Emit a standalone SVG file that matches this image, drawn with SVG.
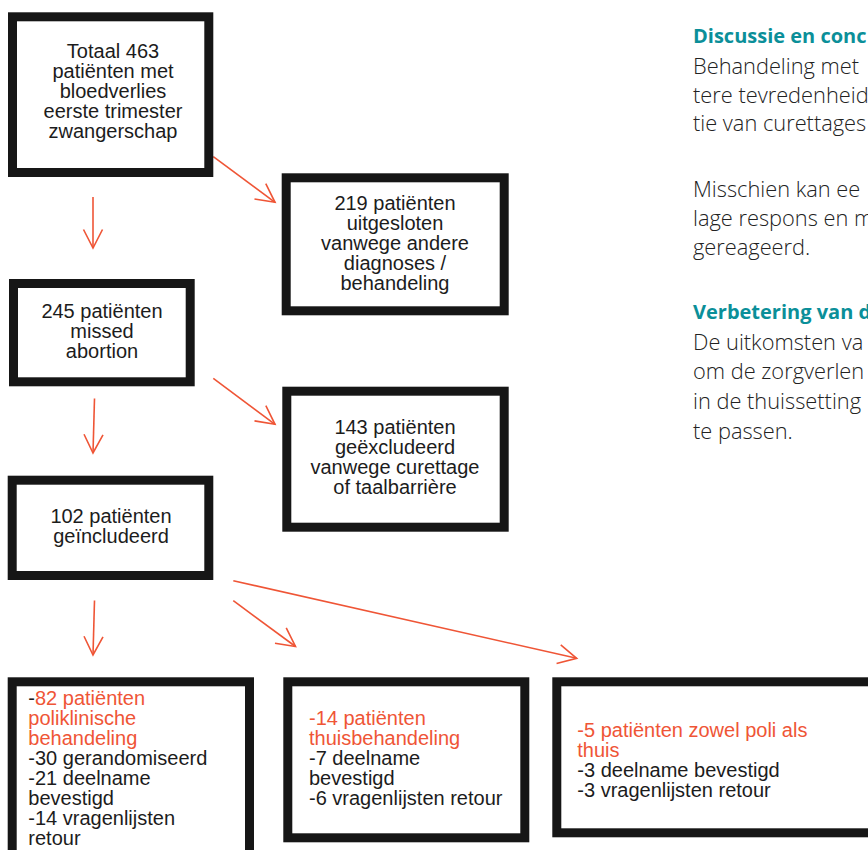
<svg xmlns="http://www.w3.org/2000/svg" width="868" height="850" viewBox="0 0 868 850">
<style>
.box{fill:#fff;stroke:#161616;stroke-width:9}
.t{font-family:"Liberation Sans",Arial,sans-serif;font-size:20px;fill:#1c1c1c}
.c{text-anchor:middle}
.r{fill:#ef5536}
.con{stroke:#ef5536;stroke-width:1.6;fill:none;marker-end:url(#ah)}
.h{font-family:"Open Sans",Lato,sans-serif;font-weight:700;font-size:20px;fill:#0b8f99}
.b{font-family:"Open Sans",Lato,sans-serif;font-weight:300;font-size:21.8px;fill:#222}
</style>
<defs>
<marker id="ah" markerUnits="userSpaceOnUse" viewBox="-21 -12 24 24" refX="0" refY="0" markerWidth="24" markerHeight="24" orient="auto" overflow="visible">
<path d="M-18.5,-9.5 L0,0 L-18.5,9.5" fill="none" stroke="#ef5536" stroke-width="1.6"/>
</marker>
</defs>
<rect width="868" height="850" fill="#fff"/>
<g id="connectors">
<path class="con" d="M93,197 L93,248"/>
<path class="con" d="M213.3,156.7 L275,202.3"/>
<path class="con" d="M94.5,398.5 L93,453"/>
<path class="con" d="M213.3,378.3 L275,424.3"/>
<path class="con" d="M94.5,600.5 L93,655"/>
<path class="con" d="M233.3,600.7 L295.5,646.5"/>
<path class="con" d="M233.3,580.7 L576.7,658.3"/>
</g>
<g id="n-totaal">
<rect class="box" x="12.5" y="16.8" width="196.3" height="155.7"/>
<text class="t c" x="113" y="58.3">Totaal 463</text>
<text class="t c" x="113" y="78.3">patiënten met</text>
<text class="t c" x="113" y="98.3">bloedverlies</text>
<text class="t c" x="113" y="118.3">eerste trimester</text>
<text class="t c" x="113" y="138.3">zwangerschap</text>
</g>
<g id="n-219">
<rect class="box" x="286.2" y="177.8" width="218" height="133"/>
<text class="t c" x="395" y="209.5">219 patiënten</text>
<text class="t c" x="395" y="229.5">uitgesloten</text>
<text class="t c" x="395" y="249.5">vanwege andere</text>
<text class="t c" x="395" y="269.5">diagnoses /</text>
<text class="t c" x="395" y="289.5">behandeling</text>
</g>
<g id="n-245">
<rect class="box" x="13.5" y="283.5" width="176.7" height="98.3"/>
<text class="t c" x="102" y="318.3">245 patiënten</text>
<text class="t c" x="102" y="338">missed</text>
<text class="t c" x="102" y="357.5">abortion</text>
</g>
<g id="n-143">
<rect class="box" x="286.8" y="391.2" width="217.4" height="136"/>
<text class="t c" x="395" y="434.3">143 patiënten</text>
<text class="t c" x="395" y="454">geëxcludeerd</text>
<text class="t c" x="395" y="474">vanwege curettage</text>
<text class="t c" x="395" y="493.5">of taalbarrière</text>
</g>
<g id="n-102">
<rect class="box" x="12.2" y="480.2" width="196.6" height="95.3"/>
<text class="t c" x="111" y="523.3">102 patiënten</text>
<text class="t c" x="111" y="542.7">geïncludeerd</text>
</g>
<g id="n-82">
<rect class="box" x="12.2" y="681.8" width="237.3" height="200"/>
<text class="t" x="28.3" y="705"><tspan>-</tspan><tspan class="r">82 patiënten</tspan></text>
<text class="t r" x="28.3" y="725">poliklinische</text>
<text class="t r" x="28.3" y="745">behandeling</text>
<text class="t" x="28.3" y="765">-30 gerandomiseerd</text>
<text class="t" x="28.3" y="785">-21 deelname</text>
<text class="t" x="28.3" y="805">bevestigd</text>
<text class="t" x="28.3" y="825">-14 vragenlijsten</text>
<text class="t" x="28.3" y="845">retour</text>
</g>
<g id="n-14">
<rect class="box" x="287.8" y="681.8" width="237" height="156"/>
<text class="t r" x="309" y="725">-14 patiënten</text>
<text class="t r" x="309" y="745">thuisbehandeling</text>
<text class="t" x="309" y="765">-7 deelname</text>
<text class="t" x="309" y="785">bevestigd</text>
<text class="t" x="309" y="805">-6 vragenlijsten retour</text>
</g>
<g id="n-5">
<rect class="box" x="556.8" y="681.8" width="340" height="151"/>
<text class="t r" x="577.3" y="737">-5 patiënten zowel poli als</text>
<text class="t r" x="577.3" y="757">thuis</text>
<text class="t" x="577.3" y="777">-3 deelname bevestigd</text>
<text class="t" x="577.3" y="797">-3 vragenlijsten retour</text>
</g>
<g id="sidetext">
<text class="h" x="693" y="43">Discussie en conc</text>
<text class="b" x="693" y="74">Behandeling met</text>
<text class="b" x="693" y="102.5">tere tevredenheid</text>
<text class="b" x="693" y="131">tie van curettages</text>
<text class="b" x="693" y="197">Misschien kan ee</text>
<text class="b" x="693" y="226">lage respons en m</text>
<text class="b" x="693" y="255">gereageerd.</text>
<text class="h" x="693" y="318.5">Verbetering van d</text>
<text class="b" x="693" y="350">De uitkomsten va</text>
<text class="b" x="693" y="379">om de zorgverlen</text>
<text class="b" x="693" y="409">in de thuissetting</text>
<text class="b" x="693" y="439">te passen.</text>
</g>
</svg>
